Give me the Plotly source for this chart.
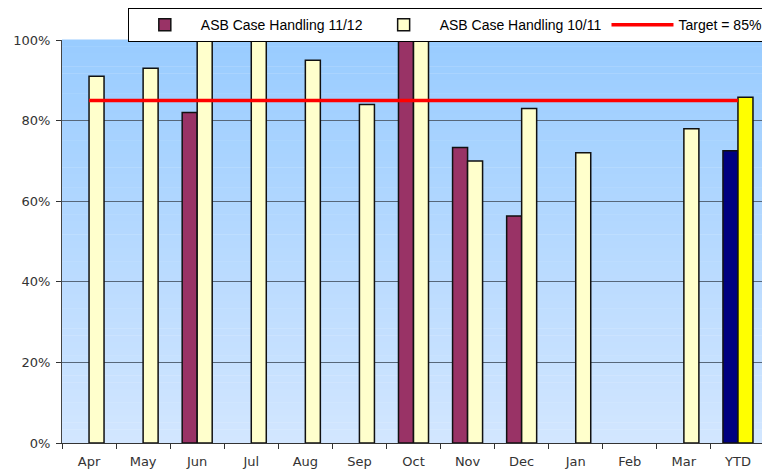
import plotly.graph_objects as go

months = ["Apr", "May", "Jun", "Jul", "Aug", "Sep", "Oct", "Nov", "Dec", "Jan", "Feb", "Mar", "YTD"]
handling_1112 = [None, None, 82, None, None, None, 100, 73.3, 56.3, None, None, None, 72.5]
handling_1011 = [91, 93, 100, 100, 95, 84, 100, 70, 83, 72, None, 78, 85.8]
target = [85] * len(months)

col_1112 = ["#993366"] * (len(months) - 1) + ["#000080"]
col_1011 = ["#FFFFCC"] * (len(months) - 1) + ["#FFFF00"]

fig = go.Figure()
fig.add_trace(go.Bar(x=months, y=handling_1112, name="ASB Case Handling 11/12",
                     marker=dict(color=col_1112, line=dict(color="#111111", width=1.5))))
fig.add_trace(go.Bar(x=months, y=handling_1011, name="ASB Case Handling 10/11",
                     marker=dict(color=col_1011, line=dict(color="#111111", width=1.5))))
fig.add_trace(go.Scatter(x=months, y=target, name="Target = 85%", mode="lines",
                         line=dict(color="#FF0000", width=3.5)))

# gradient background
shapes = []
n = 60
top = (153, 204, 255)
bot = (210, 230, 255)
for i in range(n):
    t = i / (n - 1)
    c = tuple(round(top[k] + (bot[k] - top[k]) * t) for k in range(3))
    shapes.append(dict(type="rect", xref="paper", yref="paper", x0=0, x1=1,
                       y0=1 - (i + 1) / n, y1=1 - i / n + 0.001,
                       fillcolor="rgb(%d,%d,%d)" % c, line=dict(width=0), layer="below"))

# page body has an 8px margin: figure is sized to fill the remaining window
fig.update_layout(
    width=762, height=467,
    margin=dict(l=54, r=5, t=32, b=32, autoexpand=False),
    paper_bgcolor="white", plot_bgcolor="rgba(0,0,0,0)",
    barmode="group", bargap=0.445, bargroupgap=0,
    shapes=shapes,
    showlegend=True,
    legend=dict(orientation="h", x=1.004, xanchor="right", y=1.079, yanchor="top",
                bgcolor="white", bordercolor="#000000", borderwidth=1,
                font=dict(family="Liberation Sans, Arial", size=14, color="#000000"),
                traceorder="normal", itemwidth=62, tracegroupgap=0),
    font=dict(family="DejaVu Sans, Verdana", size=13, color="#333333"),
    xaxis=dict(type="category", tickson="boundaries", ticks="outside", ticklen=5,
               tickcolor="#333333", showline=True, linecolor="#333333", linewidth=1,
               showgrid=False, tickfont=dict(size=13), ticklabelstandoff=6),
    yaxis=dict(range=[0, 100], dtick=20, ticksuffix="%", ticks="outside", ticklen=5,
               tickcolor="#333333", showline=True, linecolor="#444444", linewidth=1,
               mirror=True, showgrid=True, gridcolor="#56677A", gridwidth=1,
               zeroline=False, tickfont=dict(size=13), ticklabelstandoff=3),
)

fig.write_html("out.html")
